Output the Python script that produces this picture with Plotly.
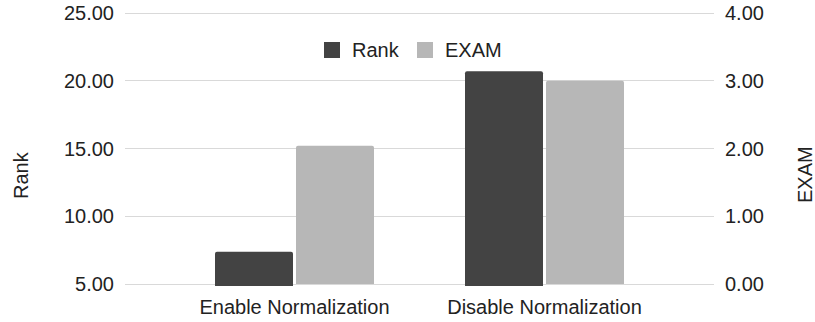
import plotly.graph_objects as go

categories = ["Enable Normalization", "Disable Normalization"]
rank_values = [7.38, 20.7]
exam_values = [2.04, 3.0]

rank_ticks = [5, 10, 15, 20, 25]
exam_ticks = [0, 1, 2, 3, 4]

FONT = "Liberation Sans, Arial, sans-serif"
TEXT = "#222222"
GRID = "#d9d9d9"
RANK_COLOR = "#434343"
EXAM_COLOR = "#b7b7b7"

W, H = 815, 322
# plot box padded by 2px top and bottom so the edge gridlines are kept
L, R, T, B = 125, 101, 11, 36
PW, PH = W - L - R, H - T - B
PAD = 2
UNIT = (PH - 2 * PAD)


def px(x):
    return (x - L) / PW


def py(y):
    return (H - B - y) / PH


def padded(lo, hi):
    e = PAD * (hi - lo) / UNIT
    return [lo - e, hi + e]


fig = go.Figure()
fig.add_trace(go.Bar(
    name="Rank", x=categories, y=rank_values, yaxis="y",
    width=0.312, offset=-0.318, showlegend=False,
    marker=dict(color=RANK_COLOR, line=dict(width=0), cornerradius=2),
))
fig.add_trace(go.Bar(
    name="EXAM", x=categories, y=exam_values, yaxis="y2",
    width=0.312, offset=0.006, showlegend=False,
    marker=dict(color=EXAM_COLOR, line=dict(width=0), cornerradius=2),
))

# legend: coloured squares with labels above the plot
legend_items = [("Rank", RANK_COLOR, 324), ("EXAM", EXAM_COLOR, 417)]
shapes = []
annotations = []
for label, color, x0 in legend_items:
    shapes.append(dict(
        type="rect", xref="paper", yref="paper",
        x0=px(x0), x1=px(x0 + 16), y0=py(58), y1=py(42),
        fillcolor=color, line=dict(width=0), layer="above",
    ))
    annotations.append(dict(
        text=label, xref="paper", yref="paper", x=px(x0 + 26), y=py(50),
        xanchor="left", yanchor="middle", showarrow=False,
        font=dict(size=20, color=TEXT),
    ))

annotations += [
    dict(text="Rank", textangle=-90, xref="paper", yref="paper",
         x=px(21), y=py(175), showarrow=False,
         xanchor="center", yanchor="middle", font=dict(size=20, color=TEXT)),
    dict(text="EXAM", textangle=-90, xref="paper", yref="paper",
         x=px(805), y=py(175), showarrow=False,
         xanchor="center", yanchor="middle", font=dict(size=20, color=TEXT)),
]

fig.update_layout(
    width=W, height=H,
    margin=dict(l=L, r=R, t=T, b=B),
    paper_bgcolor="white", plot_bgcolor="white",
    font=dict(family=FONT, size=20, color=TEXT),
    showlegend=False,
    xaxis=dict(
        type="category", range=[-0.678, 1.678], automargin=False,
        showgrid=False, showline=False, zeroline=False, ticks="",
        ticklabelstandoff=7,
        tickfont=dict(size=20, color=TEXT),
    ),
    yaxis=dict(
        range=padded(5, 25), tickvals=rank_ticks, tickformat=".2f",
        automargin=False,
        showgrid=True, gridcolor=GRID, gridwidth=1, zeroline=False,
        showline=False, ticks="", ticklabelstandoff=10,
        tickfont=dict(size=20, color=TEXT),
    ),
    yaxis2=dict(
        range=padded(0, 4), tickvals=exam_ticks, tickformat=".2f",
        overlaying="y", side="right", automargin=False,
        showgrid=False, zeroline=False, showline=False, ticks="",
        ticklabelstandoff=10,
        tickfont=dict(size=20, color=TEXT),
    ),
    shapes=shapes,
    annotations=annotations,
)

fig.write_html("out.html")
